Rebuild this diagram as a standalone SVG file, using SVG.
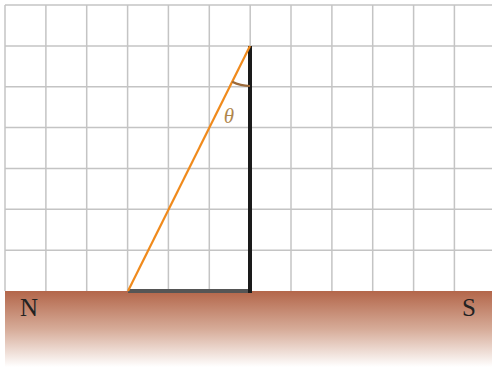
<svg xmlns="http://www.w3.org/2000/svg" width="492" height="367" viewBox="0 0 492 367">
<defs>
<linearGradient id="ground" x1="0" y1="0" x2="0" y2="1">
<stop offset="0" stop-color="#b3664a"/>
<stop offset="0.5" stop-color="#d6ab98"/>
<stop offset="1" stop-color="#ffffff"/>
</linearGradient>
<style>
.grid line{stroke:#c4c4c4;stroke-width:1.5}
.lbl{font-family:"Liberation Serif","DejaVu Serif",serif;font-size:25px;fill:#222}
</style>
</defs>
<rect width="492" height="367" fill="#fff"/>
<g class="grid" id="grid">
<line x1="5" y1="5" x2="492" y2="5"/>
<line x1="5" y1="45.9" x2="492" y2="45.9"/>
<line x1="5" y1="86.7" x2="492" y2="86.7"/>
<line x1="5" y1="127.6" x2="492" y2="127.6"/>
<line x1="5" y1="168.4" x2="492" y2="168.4"/>
<line x1="5" y1="209.3" x2="492" y2="209.3"/>
<line x1="5" y1="250.2" x2="492" y2="250.2"/>
<line x1="5" y1="5" x2="5" y2="291"/>
<line x1="45.9" y1="5" x2="45.9" y2="291"/>
<line x1="86.7" y1="5" x2="86.7" y2="291"/>
<line x1="127.6" y1="5" x2="127.6" y2="291"/>
<line x1="168.4" y1="5" x2="168.4" y2="291"/>
<line x1="209.3" y1="5" x2="209.3" y2="291"/>
<line x1="250.2" y1="5" x2="250.2" y2="291"/>
<line x1="291" y1="5" x2="291" y2="291"/>
<line x1="331.9" y1="5" x2="331.9" y2="291"/>
<line x1="372.7" y1="5" x2="372.7" y2="291"/>
<line x1="413.6" y1="5" x2="413.6" y2="291"/>
<line x1="454.4" y1="5" x2="454.4" y2="291"/>
</g>
<rect id="ground-fill" x="5" y="291" width="487" height="76" fill="url(#ground)"/>
<g id="connectors">
<line id="shadow" x1="128" y1="291" x2="250" y2="291" stroke="#555" stroke-width="4"/>
<line id="pole" x1="250" y1="46" x2="250" y2="293" stroke="#1a1a1a" stroke-width="4"/>
<line id="ray" x1="250" y1="46" x2="128" y2="291" stroke="#f08a1c" stroke-width="2.2"/>
<path id="arc" d="M232.2 81.8 A40 40 0 0 0 250 86" fill="none" stroke="#9c6a3a" stroke-width="2.2"/>
</g>
<text x="229" y="123" text-anchor="middle" font-family="'Liberation Serif','DejaVu Serif',serif" font-style="italic" font-size="21" fill="#b0864c">θ</text>
<text class="lbl" x="20" y="316">N</text>
<text class="lbl" x="462" y="316">S</text>
</svg>
